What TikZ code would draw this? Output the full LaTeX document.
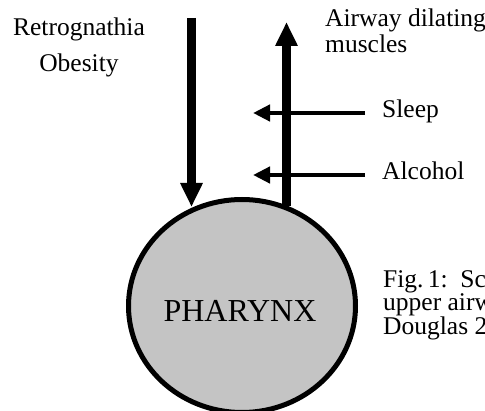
\documentclass[tikz,border=0pt]{standalone}
\usepackage{fontspec}
\setmainfont{Liberation Serif}
\usepackage{xcolor}
\usepackage{tikz}
\usetikzlibrary{arrows.meta,positioning,shapes.geometric}
\definecolor{pharyngray}{RGB}{196,196,196}

\begin{document}
\begin{tikzpicture}[x=1pt, y=-1pt,
    lab/.style={font=\fontsize{25.5}{27}\selectfont, inner sep=0pt},
    bigarrow/.style={line width=8.5pt, -{Triangle[length=24pt, width=21pt]}},
    sidearrow/.style={line width=4.5pt, -{Triangle[length=17pt, width=16pt]}}]
  \useasboundingbox (0,0) rectangle (485,411);
  % pharynx, cut off by the lower edge
  \node[ellipse, draw, line width=5pt, fill=pharyngray,
        minimum width=227pt, minimum height=213pt] (pharynx) at (242,306) {};
  \node[lab, font=\fontsize{32}{34}\selectfont, anchor=base] (pharynxlab) at (240,322) {PHARYNX};
  % labels
  \node[lab, anchor=base] (retro) at (79,36) {Retrognathia};
  \node[lab, anchor=base] (obesity) at (79,72) {Obesity};
  \node[lab, anchor=base west] (airway) at (325,27) {Airway dilating};
  \node[lab, anchor=base west] (muscles) at (325,53) {muscles};
  \node[lab, anchor=base west] (sleep) at (382,118) {Sleep};
  \node[lab, anchor=base west] (alcohol) at (382,180) {Alcohol};
  % caption, cut off by the right edge
  \node[lab, anchor=base west] (capa) at (383,288) {Fig.\,1:\ \ Sc};
  \node[lab, anchor=base west] (capb) at (383,311) {upper airw};
  \node[lab, anchor=base west] (capc) at (383,335) {Douglas 2};
  % arrow ends
  \coordinate (downtop) at (191.5,18);
  \coordinate (downtip) at (191.5,207);
  \coordinate (upfoot) at (286.5,206);
  \coordinate (uptip) at (286.5,22);
  \coordinate (sleeptip) at (253,113);
  \coordinate (alcoholtip) at (253,175);
  % side arrows first, the up arrow crosses them
  \draw[sidearrow] ([xshift=-17pt]sleep.west |- sleeptip) -- (sleeptip);
  \draw[sidearrow] ([xshift=-17pt]alcohol.west |- alcoholtip) -- (alcoholtip);
  \draw[bigarrow] (downtop) -- (downtip);
  \draw[bigarrow] (upfoot) -- (uptip);
\end{tikzpicture}
\end{document}
